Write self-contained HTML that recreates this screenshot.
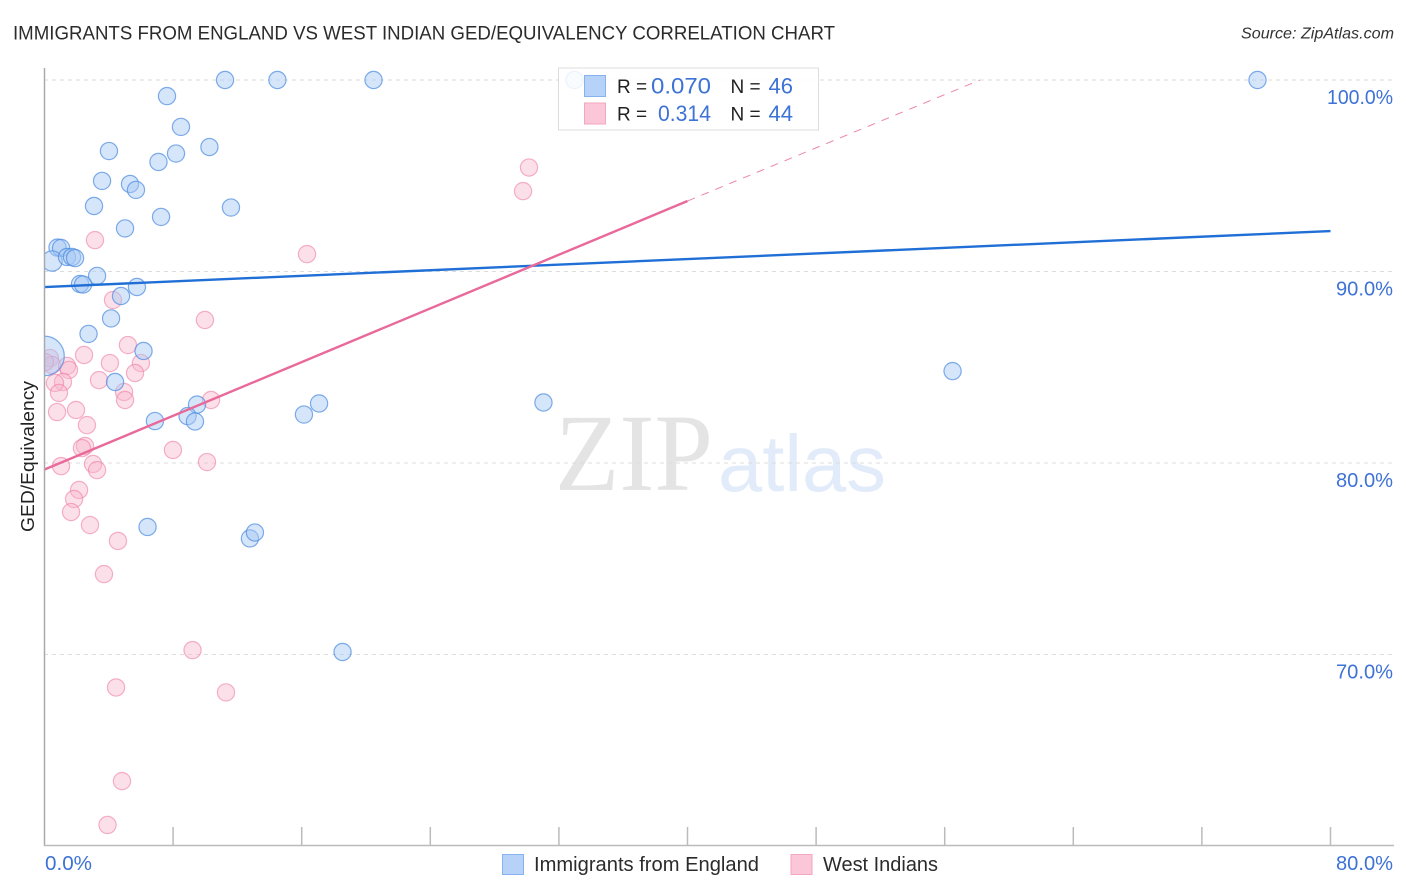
<!DOCTYPE html>
<html lang="en">
<head>
<meta charset="utf-8">
<title>Immigrants from England vs West Indian GED/Equivalency Correlation Chart</title>
<style>
html,body{margin:0;padding:0;background:#fff;width:1406px;height:892px;overflow:hidden}
svg{display:block}
text{font-family:"Liberation Sans",sans-serif}
</style>
</head>
<body>
<svg id="chart" xmlns="http://www.w3.org/2000/svg" width="1406" height="892" viewBox="0 0 1406 892">
  <defs>
    <clipPath id="plot-clip"><rect id="plot-clip-rect" x="44" y="60" width="1350" height="786"></rect></clipPath>
  </defs>
  <text x="13" y="39.5" font-size="19.5" fill="#2b2b2b" textLength="822" lengthAdjust="spacingAndGlyphs">IMMIGRANTS FROM ENGLAND VS WEST INDIAN GED/EQUIVALENCY CORRELATION CHART</text>
  <text x="1241" y="38.5" font-size="16" font-style="italic" fill="#333" textLength="153" lengthAdjust="spacingAndGlyphs">Source: ZipAtlas.com</text>

  <g>
    <text x="555" y="490" font-size="110" fill="#e4e4e4" textLength="158" lengthAdjust="spacingAndGlyphs" style="font-family:'Liberation Serif',serif">ZIP</text>
    <text x="718" y="491" font-size="80" fill="#e2ebf9" textLength="168" lengthAdjust="spacingAndGlyphs">atlas</text>
  </g>

  <g id="grid"></g>
  <g id="ticks"></g>
  <g id="pink-points" clip-path="url(#plot-clip)"></g>
  <g id="blue-points" clip-path="url(#plot-clip)"></g>
  <g id="trends"></g>

  <line x1="44.5" y1="68" x2="44.5" y2="846" stroke="#aaa" stroke-width="1.5"></line>
  <line x1="44" y1="845.5" x2="1394" y2="845.5" stroke="#bbb" stroke-width="1.5"></line>

  <g id="y-labels"></g>
  <text x="45" y="870" font-size="20" fill="#3d72d6" textLength="47" lengthAdjust="spacingAndGlyphs">0.0%</text>
  <text x="1336" y="870" font-size="20" fill="#3d72d6" textLength="57" lengthAdjust="spacingAndGlyphs">80.0%</text>
  <text transform="translate(34,456.5) rotate(-90)" font-size="18.5" fill="#222" text-anchor="middle" textLength="151" lengthAdjust="spacingAndGlyphs">GED/Equivalency</text>

  <g>
    <rect x="558.5" y="68" width="260" height="62" fill="#fff" fill-opacity="0.86" stroke="#ddd" stroke-width="1"></rect>
    <rect x="584.5" y="75.5" width="21" height="21" fill="#b6d2f8" stroke="#86b3ee" stroke-width="1"></rect>
    <rect x="584.5" y="103" width="21" height="21" fill="#fbc6d8" stroke="#f3a6c0" stroke-width="1"></rect>
    <text x="617" y="93" font-size="19" fill="#222">R =</text>
    <text x="651" y="93.5" font-size="22" fill="#3d72d6" textLength="60" lengthAdjust="spacingAndGlyphs">0.070</text>
    <text x="730.5" y="93" font-size="19" fill="#222">N =</text>
    <text x="793" y="93.5" font-size="22" fill="#3d72d6" text-anchor="end">46</text>
    <text x="617" y="120.5" font-size="19" fill="#222">R =</text>
    <text x="658" y="121" font-size="22" fill="#3d72d6" textLength="53" lengthAdjust="spacingAndGlyphs">0.314</text>
    <text x="730.5" y="120.5" font-size="19" fill="#222">N =</text>
    <text x="793" y="121" font-size="22" fill="#3d72d6" text-anchor="end">44</text>
  </g>

  <g>
    <rect x="502.5" y="854.5" width="21" height="20" fill="#b6d2f8" stroke="#86b3ee" stroke-width="1"></rect>
    <text x="534" y="871" font-size="20" fill="#2b2b2b" textLength="225" lengthAdjust="spacingAndGlyphs">Immigrants from England</text>
    <rect x="791" y="854.5" width="21" height="20" fill="#fbc6d8" stroke="#f3a6c0" stroke-width="1"></rect>
    <text x="823" y="871" font-size="20" fill="#2b2b2b" textLength="115" lengthAdjust="spacingAndGlyphs">West Indians</text>
  </g>
</svg>

<script>
// GED/Equivalency (%) against share of population (%)
const yTickValues = [100, 90, 80, 70];
const yTickLabels = ['100.0%', '90.0%', '80.0%', '70.0%'];
const xTickValues = [8, 16, 24, 32, 40, 48, 56, 64, 72, 80];

const blueX = [11.23,14.49,20.47,32.97,75.46,7.62,8.49,10.26,4.01,8.18,7.09,3.58,5.32,5.69,3.08,11.60,7.25,5.01,0.81,1.03,0.47,1.40,1.71,1.90,3.27,2.21,2.40,5.75,4.76,4.14,2.74,6.16,0.00,4.39,9.49,8.90,9.36,6.87,16.14,17.08,31.04,56.49,6.41,12.78,13.09,18.54];
const blueY = [100,100,100,100,100,99.16,97.55,96.50,96.29,96.16,95.72,94.73,94.57,94.26,93.42,93.34,92.85,92.25,91.25,91.23,90.55,90.76,90.76,90.70,89.77,89.35,89.32,89.19,88.72,87.55,86.74,85.85,85.59,84.23,83.05,82.45,82.17,82.19,82.53,83.11,83.16,84.80,76.66,76.06,76.37,70.13];
const blueWeight = [1,1,1,1,1,1,1,1,1,1,1,1,1,1,1,1,1,1,1,1,1.4,1,1,1,1,1,1,1,1,1,1,1,5.3,1,1,1,1,1,1,1,1,1,1,1,1,1];

const pinkX = [0.34,0.47,0.03,2.46,4.07,5.19,6.00,5.63,3.39,1.40,1.52,1.15,0.65,0.90,4.95,5.01,10.36,0.78,1.96,2.64,2.52,2.33,7.99,10.11,1.03,3.02,3.27,2.15,1.84,1.65,2.83,4.57,3.70,4.26,3.14,9.98,16.33,30.14,29.77,9.21,4.45,11.29,4.82,3.92];
const pinkY = [85.48,85.12,85.27,85.64,85.22,86.16,85.22,84.70,84.33,85.07,84.86,84.23,84.18,83.66,83.71,83.29,83.29,82.66,82.77,81.98,80.89,80.78,80.68,80.05,79.84,79.95,79.63,78.59,78.12,77.44,76.76,75.93,74.20,88.51,91.64,87.47,90.91,95.43,94.20,70.23,68.28,68.02,63.39,61.10];

const blueTrendX = [0, 80];
const blueTrendY = [89.19, 92.11];
const pinkTrendX = [0, 40];
const pinkTrendY = [79.66, 93.68];
const pinkExtensionX = [40, 58.2];
const pinkExtensionY = [93.68, 100];

const SVGNS = 'http://www.w3.org/2000/svg';
const xScale = v => 44.5 + v * 16.075;
const yScale = v => 80 + (100 - v) * 19.15;
const baseRadius = 8.6;

function make(tag, attrs, parent) {
  const el = document.createElementNS(SVGNS, tag);
  for (const k in attrs) el.setAttribute(k, attrs[k]);
  parent.appendChild(el);
  return el;
}

const grid = document.getElementById('grid');
const yLabels = document.getElementById('y-labels');
yTickValues.forEach((v, i) => {
  const line = make('line', {x1: 44, x2: 1394, y1: yScale(v), y2: yScale(v), stroke: '#dcdcdc', 'stroke-width': 1, 'stroke-dasharray': '4 4'}, grid);
  
  
  const labelText = yTickLabels[i];
  const labelWidth = labelText.length > 5 ? 66 : 57;
  const t = make('text', {x: 1393 - labelWidth, y: yScale(v) + 24, 'font-size': 20, fill: '#3d72d6', textLength: labelWidth, lengthAdjust: 'spacingAndGlyphs'}, yLabels);
  t.textContent = labelText;
  
  
});

const ticks = document.getElementById('ticks');
xTickValues.forEach(v => {
  const tick = make('line', {x1: xScale(v), x2: xScale(v), y1: 827, y2: 845, stroke: '#bbb', 'stroke-width': 1.5}, ticks);
  
  
});

const pinkGroup = document.getElementById('pink-points');
pinkX.forEach((x, i) => {
  const c = make('circle', {cx: xScale(x), cy: yScale(pinkY[i]), r: baseRadius, fill: '#f9b4cb', 'fill-opacity': 0.42, stroke: '#ee7fa4', 'stroke-opacity': 0.6, 'stroke-width': 1.2}, pinkGroup);
  
  
});

const blueGroup = document.getElementById('blue-points');
blueX.forEach((x, i) => {
  const c = make('circle', {cx: xScale(x), cy: yScale(blueY[i]), r: baseRadius * Math.sqrt(blueWeight[i]), fill: '#a8c8f4', 'fill-opacity': 0.48, stroke: '#4a8ae0', 'stroke-opacity': 0.7, 'stroke-width': 1.2}, blueGroup);
  
  
});

const trends = document.getElementById('trends');
const blueLine = make('line', {x1: xScale(blueTrendX[0]), y1: yScale(blueTrendY[0]), x2: xScale(blueTrendX[1]), y2: yScale(blueTrendY[1]), stroke: '#1f6fd6', 'stroke-width': 2.4}, trends);


const pinkLine = make('line', {x1: xScale(pinkTrendX[0]), y1: yScale(pinkTrendY[0]), x2: xScale(pinkTrendX[1]), y2: yScale(pinkTrendY[1]), stroke: '#e8699a', 'stroke-width': 2.4}, trends);


const pinkDash = make('line', {x1: xScale(pinkExtensionX[0]), y1: yScale(pinkExtensionY[0]), x2: xScale(pinkExtensionX[1]), y2: yScale(pinkExtensionY[1]), stroke: '#ee85aa', 'stroke-width': 1, 'stroke-dasharray': '8 7'}, trends);


</script>
</body>
</html>
